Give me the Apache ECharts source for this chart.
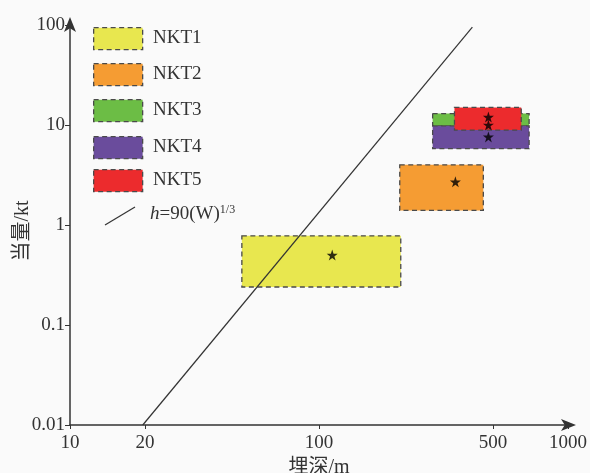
<!DOCTYPE html>
<html><head><meta charset="utf-8">
<script src="https://cdn.jsdelivr.net/npm/echarts@6/dist/echarts.min.js"></script>
<style>html,body{margin:0;padding:0;background:#fafafa}#c{width:590px;height:473px}</style>
</head><body><div id="c"></div>
<script>
const groups = ['NKT1', 'NKT2', 'NKT3', 'NKT4', 'NKT5'];
const colors = ['#e8e74f', '#f59c33', '#6cbd45', '#6a4c9c', '#ec2b2d'];
const depthMin = [49, 211, 286, 286, 350];
const depthMax = [213, 457, 698, 698, 649];
const yieldMin = [0.24, 1.4, 9.8, 5.8, 8.9];
const yieldMax = [0.78, 4, 13, 9.8, 15];
const starDepth = [113, 353, 479, 479, 479];
const starYield = [0.5, 2.7, 12, 10, 7.6];
const lineDepth = [19.6, 413];
const lineYield = [0.01, 95];
const xTicks = [10, 20, 100, 500, 1000];
const yTicks = [0.01, 0.1, 1, 10, 100];

const FONT = "'Liberation Serif', 'Noto Sans CJK SC', serif";
const starPath = 'path://M50,0 L61.8,35.4 L99,35.4 L69,57.3 L80.4,92.7 L50,70.8 L19.6,92.7 L31,57.3 L1,35.4 L38.2,35.4 Z';

const chart = echarts.init(document.getElementById('c'), null, {renderer: 'canvas'});

const rectSeries = groups.map((g, i) => ({
  type: 'custom',
  name: g,
  z: 2 + i,
  data: [[depthMin[i], depthMax[i], yieldMin[i], yieldMax[i]]],
  renderItem: function (params, api) {
    const p0 = api.coord([api.value(0), api.value(3)]);
    const p1 = api.coord([api.value(1), api.value(2)]);
    return {
      type: 'rect',
      shape: {x: p0[0], y: p0[1], width: p1[0] - p0[0], height: p1[1] - p0[1]},
      style: {fill: colors[i], stroke: '#4a4a4a', lineWidth: 1.3, lineDash: [5, 3.5]}
    };
  }
}));

const legendGraphics = [];
const legTop = [27, 63, 99, 136, 169];
groups.forEach((g, i) => {
  legendGraphics.push({type: 'rect', left: 93, top: legTop[i], shape: {x: 0, y: 0, width: 49, height: 22},
    style: {fill: colors[i], stroke: '#4a4a4a', lineWidth: 1.3, lineDash: [5, 3.5]}, z: 100});
  legendGraphics.push({type: 'text', x: 153, y: legTop[i] + 11,
    style: {text: g, font: '19px ' + FONT, fill: '#333', verticalAlign: 'middle'}, z: 100});
});
legendGraphics.push({type: 'line', shape: {x1: 105, y1: 225, x2: 135, y2: 207},
  style: {stroke: '#333', lineWidth: 1.2}, z: 100});
legendGraphics.push({type: 'text', x: 150, y: 214,
  style: {
    text: '{i|h}=90(W){s|1/3}', fill: '#333', verticalAlign: 'middle',
    font: '19px ' + FONT,
    rich: {
      i: {fontFamily: FONT, fontSize: 19, fontStyle: 'italic', fill: '#333'},
      s: {fontFamily: FONT, fontSize: 12, fill: '#333', verticalAlign: 'top', padding: [0, 0, 9, 0]}
    }
  }, z: 100});

chart.setOption({
  backgroundColor: '#fafafa',
  animation: false,
  grid: {left: 70, right: 22, top: 25, bottom: 48, containLabel: false, outerBoundsMode: 'none'},
  xAxis: {
    type: 'log', logBase: 10, min: 10, max: 1000,
    name: '埋深/m', nameLocation: 'middle', nameGap: 33, nameMoveOverlap: false,
    nameTextStyle: {fontFamily: FONT, fontSize: 20, color: '#333'},
    axisLine: {show: true, lineStyle: {color: '#333', width: 1.5}, symbol: ['none', 'arrow'], symbolSize: [9, 15], symbolOffset: [0, 8]},
    axisTick: {show: true, inside: false, length: 4, lineStyle: {color: '#333'}, customValues: xTicks},
    axisLabel: {fontFamily: FONT, fontSize: 19, color: '#333', margin: 9, customValues: xTicks, formatter: v => String(Number(v.toPrecision(3)))},
    splitLine: {show: false}, minorTick: {show: false}
  },
  yAxis: {
    type: 'log', logBase: 10, min: 0.01, max: 100,
    name: '当量/kt', nameLocation: 'middle', nameGap: 37, nameRotate: 90, nameMoveOverlap: false,
    nameTextStyle: {fontFamily: FONT, fontSize: 20, color: '#333', padding: [0, 12, 0, 0]},
    axisLine: {show: true, lineStyle: {color: '#333', width: 1.5}, symbol: ['none', 'arrow'], symbolSize: [9, 15], symbolOffset: [0, 8]},
    axisTick: {show: true, inside: false, length: 5, lineStyle: {color: '#333'}},
    axisLabel: {fontFamily: FONT, fontSize: 19, color: '#333', margin: 5, formatter: v => String(Number(v.toPrecision(3)))},
    splitLine: {show: false}
  },
  series: rectSeries.concat([
    {
      type: 'line', name: 'h', z: 20, symbol: 'none', silent: true,
      lineStyle: {color: '#333', width: 1.2},
      data: lineDepth.map((d, i) => [d, lineYield[i]])
    },
    {
      type: 'scatter', name: 'star', z: 30, symbol: starPath, symbolSize: 11,
      itemStyle: {color: '#000'},
      data: starDepth.map((d, i) => [d, starYield[i]])
    }
  ]),
  graphic: legendGraphics
});
</script></body></html>
